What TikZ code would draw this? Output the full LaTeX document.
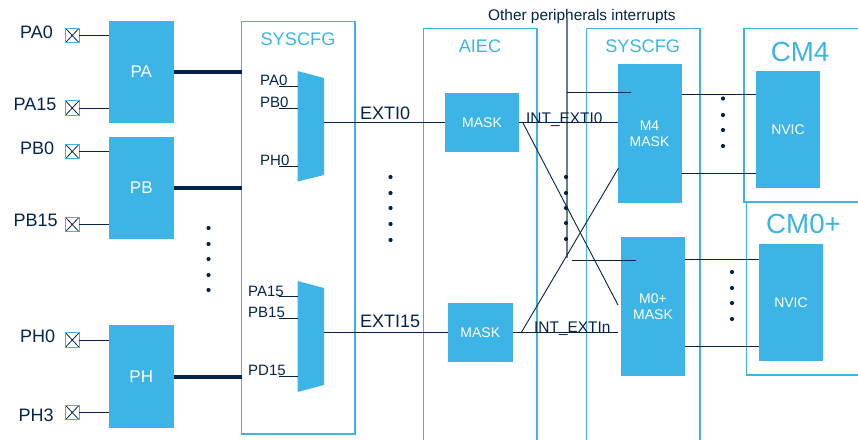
\documentclass[tikz,border=0pt]{standalone}
\usepackage{fontspec}
\setmainfont{Liberation Sans}
\definecolor{stblue}{HTML}{3CB4E6}
\definecolor{stnavy}{HTML}{03234B}
\tikzset{
  x=1pt,y=-1pt,
  wire/.style={draw=stnavy,line width=0.9pt},
  bus/.style={draw=stnavy,line width=4pt},
  frame/.style={draw=stblue,line width=1.5pt,fill=none,inner sep=0,outer sep=0},
  bluebox/.style={fill=stblue,text=white,inner sep=0,outer sep=0,align=center,font=\fontsize{14}{16}\selectfont},
  portbox/.style={bluebox,minimum width=64.5pt,minimum height=102pt,font=\fontsize{17}{20}\selectfont},
  pinbox/.style={draw=stblue,line width=1pt,minimum width=13.5pt,minimum height=14.5pt,inner sep=0,outer sep=0,
    path picture={\draw[stnavy,line width=0.8pt] (path picture bounding box.north west)--(path picture bounding box.south east)
      (path picture bounding box.north east)--(path picture bounding box.south west);}},
  pinlabel/.style={text=stnavy,inner sep=0,anchor=base west,font=\fontsize{18}{20}\selectfont},
  muxlabel/.style={text=stnavy,inner sep=0,anchor=base west,font=\fontsize{15}{18}\selectfont},
  sig/.style={text=stnavy,inner sep=0,anchor=base west,font=\fontsize{18}{20}\selectfont},
  intl/.style={text=stnavy,inner sep=0,anchor=base west,font=\fontsize{15.4}{18}\selectfont},
  title/.style={text=stblue,inner sep=0,anchor=base,font=\fontsize{18.2}{20}\selectfont},
  bigtitle/.style={text=stblue,inner sep=0,anchor=base,font=\fontsize{27.7}{30}\selectfont},
  dotmark/.style={circle,draw=none,fill=stnavy,inner sep=0,outer sep=0,minimum size=4.2pt},
}
\begin{document}
\begin{tikzpicture}
\clip (0,0) rectangle (858,439);
% frames
\node[frame,minimum width=113.5pt,minimum height=412.5pt] (sys1) at (298.25,227.75) {};
\node[frame,minimum width=113.5pt,minimum height=430pt] (aiec) at (480.25,243.5) {};
\node[frame,minimum width=113.5pt,minimum height=430pt] (sys2) at (643.25,243.5) {};
\node[frame,minimum width=130pt,minimum height=173.5pt] (cm4) at (809,115.25) {};
\node[frame,minimum width=130pt,minimum height=173pt] (cm0) at (811.5,288.5) {};
\node[title] (tsys1) at (298,45) {SYSCFG};
\node[title] (taiec) at (480,52) {AIEC};
\node[title] (tsys2) at (642.7,52) {SYSCFG};
\node[bigtitle] (tcm4) at (800,61) {CM4};
\node[bigtitle] (tcm0) at (803.5,233.5) {CM0+};
% port boxes
\node[portbox] (pa) at (141.25,72) {PA};
\node[portbox] (pb) at (141.25,188) {PB};
\node[portbox,minimum height=103pt] (ph) at (141.25,376.5) {PH};
% pins
\node[pinbox] (p1) at (72.25,35.5) {};
\node[pinbox] (p2) at (72.25,108) {};
\node[pinbox] (p3) at (72.25,151.5) {};
\node[pinbox] (p4) at (72.25,224.5) {};
\node[pinbox] (p5) at (72.25,340) {};
\node[pinbox] (p6) at (72.25,412.5) {};
\node[pinlabel] (l1) at (20,38) {PA0};
\node[pinlabel] (l2) at (13.5,110) {PA15};
\node[pinlabel] (l3) at (20,154) {PB0};
\node[pinlabel] (l4) at (13.5,226) {PB15};
\node[pinlabel] (l5) at (20,342) {PH0};
\node[pinlabel] (l6) at (18.5,421) {PH3};
\draw[wire] (p1.east) -- (p1.east -| pa.west);
\draw[wire] (p2.east) -- (p2.east -| pa.west);
\draw[wire] (p3.east) -- (p3.east -| pb.west);
\draw[wire] (p4.east) -- (p4.east -| pb.west);
\draw[wire] (p5.east) -- (p5.east -| ph.west);
\draw[wire] (p6.east) -- (p6.east -| ph.west);
\draw[bus] (pa.east) -- (pa.east -| sys1.west);
\draw[bus] (pb.east) -- (pb.east -| sys1.west);
\draw[bus] (ph.east) -- (ph.east -| sys1.west);
% muxes
\fill[stblue] (297.5,71) -- (324,78) -- (324,175) -- (297.5,181.5) -- cycle;
\fill[stblue] (297.5,281) -- (324,288) -- (324,385) -- (297.5,392) -- cycle;
\coordinate (m1o) at (324,122.5);
\coordinate (m2o) at (324,332.7);
\foreach \n/\yy in {a/86,b/108,c/166,d/296.5,e/318.5,f/376}{
  \coordinate (mi\n) at (279,\yy);
  \draw[wire] (mi\n) -- ++(18.5,0);
}
\node[muxlabel] (ml1) at (260,85.5) {PA0};
\node[muxlabel] (ml2) at (260,107) {PB0};
\node[muxlabel] (ml3) at (260,165.5) {PH0};
\node[muxlabel] (ml4) at (248,296.5) {PA15};
\node[muxlabel] (ml5) at (248,317) {PB15};
\node[muxlabel] (ml6) at (248,375) {PD15};
\node[sig] (e0) at (360,119.5) {EXTI0};
\node[sig] (e15) at (360,327.5) {EXTI15};
% masks
\node[bluebox,minimum width=74pt,minimum height=59pt] (mk1) at (482,122.5) {MASK};
\node[bluebox,minimum width=64.5pt,minimum height=59.5pt] (mk2) at (480.25,332.7) {MASK};
\node[bluebox,minimum width=64pt,minimum height=139pt] (m4) at (649.5,133.5) {M4\\MASK};
\node[bluebox,minimum width=64pt,minimum height=139pt] (m0) at (653,306.5) {M0+\\MASK};
\node[bluebox,minimum width=64pt,minimum height=117pt] (nv1) at (788,129.5) {NVIC};
\node[bluebox,minimum width=64pt,minimum height=117pt] (nv2) at (791,302.5) {NVIC};
\draw[wire] (m1o) -- (mk1.west);
\draw[wire] (m2o) -- (mk2.west);
\draw[wire] (mk1.east) -- (mk1.east -| m4.west);
\draw[wire] (mk2.east) -- ++(105.5,0);
% other peripherals
\node[text=stnavy,inner sep=0,anchor=base west,font=\fontsize{15.4}{17}\selectfont] (oth) at (488,20) {Other peripherals interrupts};
\coordinate (vt) at (567,18);
\coordinate (vb) at (567,258);
\draw[draw=stnavy!60!white,line width=1.1pt] (vt) -- (vb);
\coordinate (o1) at (567,92);
\coordinate (o1e) at (631,92);
\coordinate (o2) at (572,260);
\coordinate (o2e) at (636,260);
\draw[wire] (o1) -- (o1e);
\draw[wire] (o2) -- (o2e);
% crossing
\coordinate (c1a) at (523,123);
\coordinate (c1b) at (618,305);
\coordinate (c2a) at (521,333);
\coordinate (c2b) at (618.5,168);
\draw[wire] (c1a) -- (c1b);
\draw[wire] (c2a) -- (c2b);
\node[intl] (i0) at (526,123) {INT\_EXTI0};
\node[intl] (in) at (534,332.7) {INT\_EXTIn};
% outputs
\coordinate (r1) at (681.5,94);
\coordinate (r2) at (681.5,173);
\coordinate (r3) at (685,259);
\coordinate (r4) at (685,346);
\draw[wire] (r1) -- (r1 -| nv1.west);
\draw[wire] (r2) -- (r2 -| nv1.west);
\draw[wire] (r3) -- (r3 -| nv2.west);
\draw[wire] (r4) -- (r4 -| nv2.west);
% dots
\foreach \xx/\yy in {208.5/228,208.5/244,208.5/259,208.5/275,208.5/290,
  390.5/177,390.5/193,390.5/208,390.5/224,390.5/240,
  566/177,566/193,566/208,566/223,566/239,
  723/98.5,723/115,723/130,723/146,
  732/272,732/288,732/303,732/319}{
  \node[dotmark] at (\xx,\yy) {};
}
\end{tikzpicture}
\end{document}
